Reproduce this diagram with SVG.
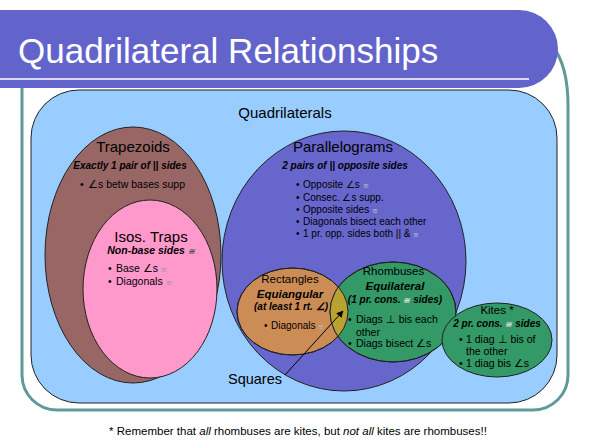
<svg xmlns="http://www.w3.org/2000/svg" width="595" height="445" viewBox="0 0 595 445">
  <style>
    text { font-family: "Liberation Sans", Arial, sans-serif; fill: #000; }
    .h15 { font-size: 15px; text-anchor: middle; }
    .h12 { font-size: 11.5px; text-anchor: middle; }
    .bi { font-weight: bold; font-style: italic; font-size: 10px; text-anchor: middle; }
    .bi12 { font-weight: bold; font-style: italic; font-size: 11.5px; text-anchor: middle; }
    .b { font-size: 10px; }
    .b105 { font-size: 10.5px; }
    .cg { font-size: 7px; fill: #999; }
    .cgb { font-size: 8px; fill: #555; }
    .shape { stroke: #222; stroke-width: 1; }
    .outline { fill: none; stroke: #222; stroke-width: 1; }
  </style>
  <defs>
    <marker id="arrow" viewBox="0 0 10 10" refX="9" refY="5" markerWidth="7" markerHeight="7" orient="auto-start-reverse" markerUnits="userSpaceOnUse">
      <path d="M0,0 L10,5 L0,10 Z" fill="#000"/>
    </marker>
    <clipPath id="rhombClip">
      <ellipse cx="393" cy="312" rx="63" ry="50"/>
    </clipPath>
  </defs>

  <rect x="0" y="0" width="595" height="445" fill="#fff"/>

  <g id="frame">
    <path d="M22,80 V375 A35,35 0 0 0 57,410 H533 A35,35 0 0 0 568,375 V105 C568,78 562,58 552,45" fill="none" stroke="#5F9A98" stroke-width="3"/>
  </g>

  <g id="title">
    <path d="M0,10 H519 A39,39 0 0 1 519,88 H0 Z" fill="#6363CC"/>
    <line x1="0" y1="79" x2="529" y2="79" stroke="#fff" stroke-width="1.5"/>
    <text x="18" y="63" style="font-size:35px; fill:#fff">Quadrilateral Relationships</text>
  </g>

  <g id="quadrilaterals">
    <rect x="31" y="90" width="526" height="313" rx="48" ry="48" fill="#99CCFF" class="shape"/>
    <text x="285" y="118" class="h15">Quadrilaterals</text>
  </g>

  <g id="trapezoids">
    <ellipse cx="133" cy="255" rx="88" ry="128" fill="#996666" class="shape"/>
    <text x="133" y="152" class="h15">Trapezoids</text>
    <text x="130" y="169" class="bi">Exactly 1 pair of || sides</text>
    <text class="b105" y="188"><tspan x="80">•</tspan><tspan x="88">∠s betw bases supp</tspan></text>
  </g>

  <g id="isos-traps">
    <ellipse cx="150" cy="289" rx="67" ry="89" fill="#FF99CC" class="shape"/>
    <text x="151" y="242" class="h15">Isos. Traps</text>
    <text x="151" y="254" class="bi" style="font-size:10.5px">Non-base sides <tspan class="cgb">≅</tspan></text>
    <text class="b105" y="272"><tspan x="108">•</tspan><tspan x="116">Base ∠s </tspan><tspan class="cg">≅</tspan></text>
    <text class="b105" y="285"><tspan x="108">•</tspan><tspan x="116">Diagonals </tspan><tspan class="cg">≅</tspan></text>
  </g>

  <g id="parallelograms">
    <ellipse cx="344" cy="261" rx="122" ry="130" fill="#6666CC" class="shape"/>
    <text x="343" y="152" class="h15">Parallelograms</text>
    <text x="345" y="169" class="bi">2 pairs of || opposite sides</text>
    <text class="b" y="188"><tspan x="296">•</tspan><tspan x="303">Opposite ∠s </tspan><tspan class="cg" style="fill:#bbb">≅</tspan></text>
    <text class="b" y="200.5"><tspan x="296">•</tspan><tspan x="303">Consec. ∠s supp.</tspan></text>
    <text class="b" y="213"><tspan x="296">•</tspan><tspan x="303">Opposite sides </tspan><tspan class="cg" style="fill:#bbb">≅</tspan></text>
    <text class="b" y="225"><tspan x="296">•</tspan><tspan x="303">Diagonals bisect each other</tspan></text>
    <text class="b" y="237"><tspan x="296">•</tspan><tspan x="303">1 pr. opp. sides both || &amp; </tspan><tspan class="cg" style="fill:#bbb">≅</tspan></text>
  </g>

  <g id="rectangles">
    <ellipse cx="292.5" cy="311.5" rx="55.5" ry="43.5" fill="#CC8C55" class="shape"/>
    <text x="290" y="283" class="h12">Rectangles</text>
    <text x="290" y="298" class="bi12">Equiangular</text>
    <text x="291" y="310" class="bi">(at least 1 rt. ∠)</text>
    <text class="b" y="329"><tspan x="264">•</tspan><tspan x="271">Diagonals </tspan><tspan class="cg" style="fill:#bbb">≅</tspan></text>
  </g>

  <g id="rhombuses">
    <ellipse cx="393" cy="312" rx="63" ry="50" fill="#339966" class="shape"/>
    <ellipse cx="292.5" cy="311.5" rx="55.5" ry="43.5" fill="#B8A232" clip-path="url(#rhombClip)"/>
    <ellipse cx="292.5" cy="311.5" rx="55.5" ry="43.5" class="outline"/>
    <ellipse cx="393" cy="312" rx="63" ry="50" class="outline"/>
    <text x="393.5" y="275" class="h12">Rhombuses</text>
    <text x="395" y="290" class="bi12">Equilateral</text>
    <text x="395" y="303" class="bi">(1 pr. cons. <tspan class="cgb" style="fill:#ddd">≅</tspan> sides)</text>
    <text class="b105" y="323"><tspan x="348">•</tspan><tspan x="356">Diags ⊥ bis each</tspan></text>
    <text class="b105" y="336"><tspan x="356">other</tspan></text>
    <text class="b105" y="347"><tspan x="348">•</tspan><tspan x="356">Diags bisect ∠s</tspan></text>
  </g>

  <g id="kites">
    <ellipse cx="497" cy="340" rx="55" ry="37" fill="#339966" class="shape"/>
    <text x="497" y="314" class="h12">Kites *</text>
    <text x="497" y="327" class="bi">2 pr. cons. <tspan class="cgb" style="fill:#ddd">≅</tspan> sides</text>
    <text class="b105" y="343"><tspan x="459">•</tspan><tspan x="466">1 diag ⊥ bis of</tspan></text>
    <text class="b105" y="355"><tspan x="466">the other</tspan></text>
    <text class="b105" y="367"><tspan x="459">•</tspan><tspan x="466">1 diag bis ∠s</tspan></text>
  </g>

  <g id="squares">
    <text x="228" y="384" style="font-size:14.5px">Squares</text>
  </g>

  <g id="connectors">
    <line x1="285" y1="375" x2="343" y2="311" stroke="#000" stroke-width="1" marker-end="url(#arrow)"/>
  </g>

  <g id="footnote">
    <text x="298" y="435" style="font-size:11.5px; text-anchor:middle">* Remember that <tspan font-style="italic">all</tspan> rhombuses are kites, but <tspan font-style="italic">not all</tspan> kites are rhombuses!!</text>
  </g>
</svg>
